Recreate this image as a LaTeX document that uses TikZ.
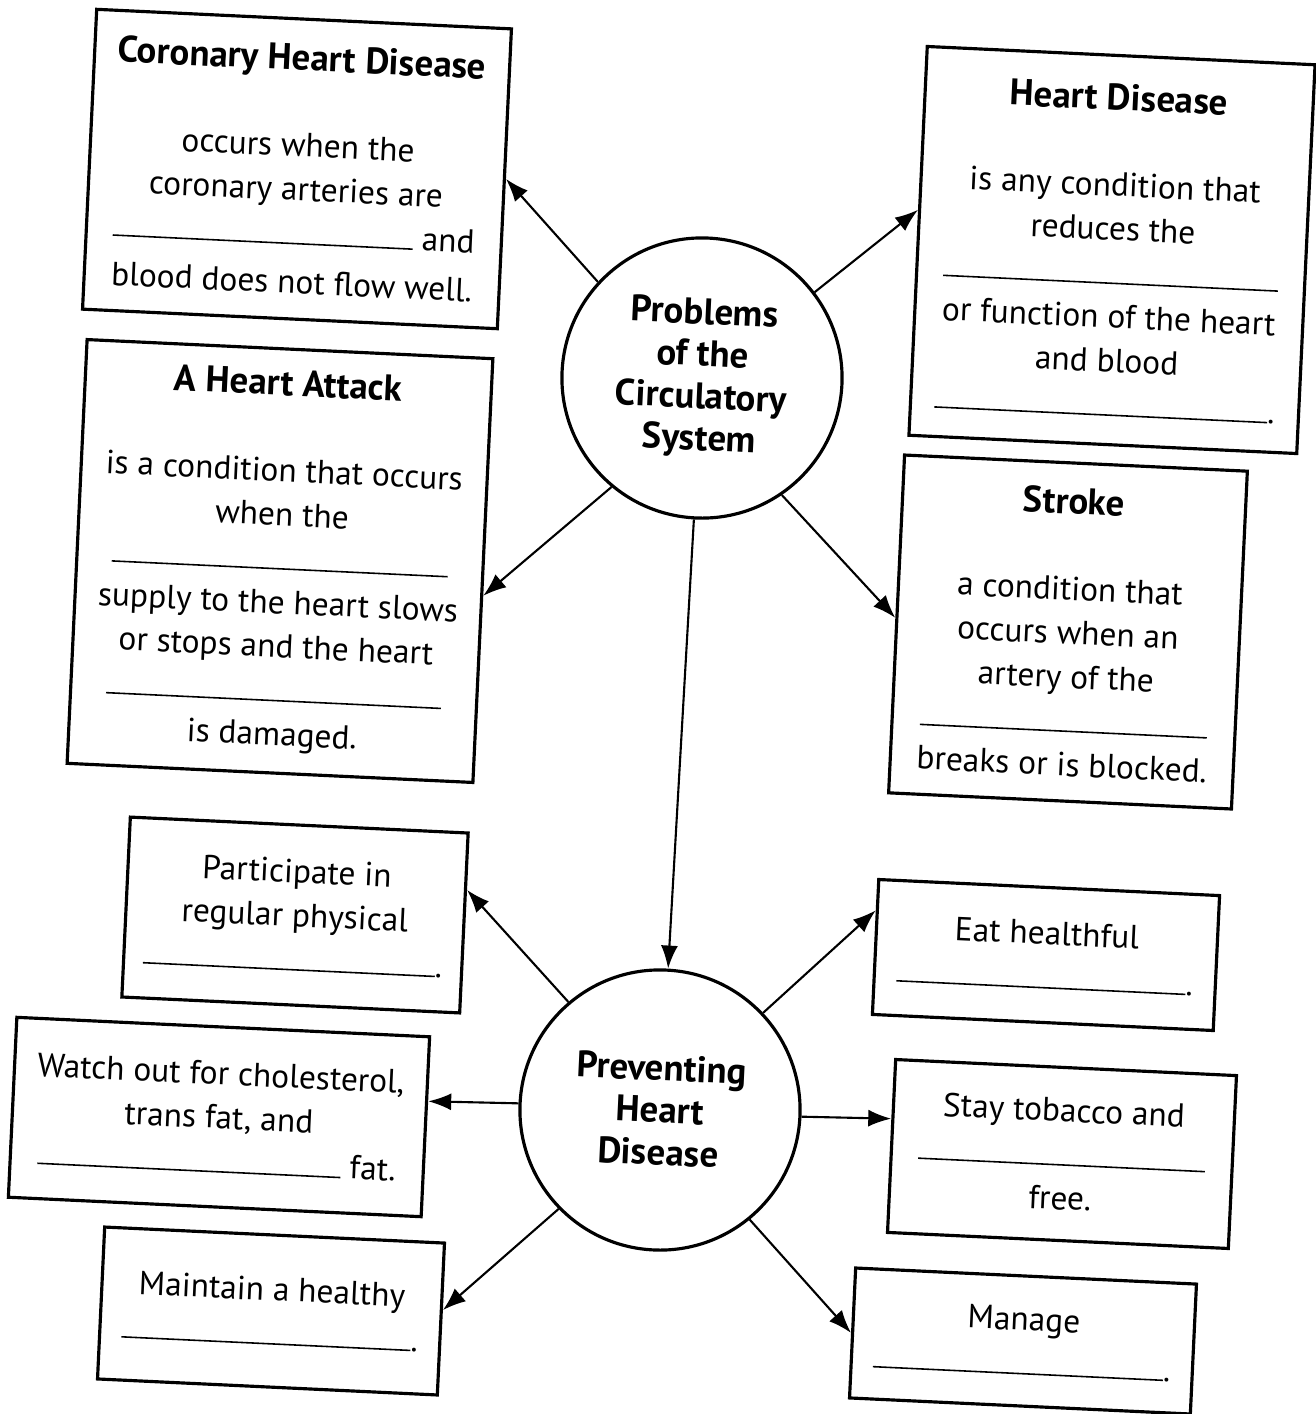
\documentclass[tikz,border=0pt]{standalone}
\usepackage{fontspec}
\setmainfont{PT Sans}
\usetikzlibrary{arrows.meta}

\newcommand{\head}[1]{{\bfseries\fontsize{10.5}{12.5}\selectfont #1}}
\newcommand{\blank}[1]{\rule{#1}{0.45pt}}

\begin{document}
\begin{tikzpicture}[x=0.01cm,y=-0.01cm,
	every node/.style={black},
	box/.style={draw,line width=0.9pt,align=center,inner sep=0pt,rotate=-2.7,
		font=\fontsize{9.5}{12.5}\selectfont},
	hub/.style={draw,circle,line width=0.9pt,align=center,inner sep=0pt,rotate=-2.7,
		minimum size=2.8cm,font=\bfseries\fontsize{10.5}{12}\selectfont},
	arr/.style={line width=0.6pt,-{Latex[length=2.3mm,width=1.7mm]}}]
	\fill[white] (0,0) rectangle (1316,1414);
	\useasboundingbox (0,0) rectangle (1316,1414);

	% the two hubs
	\node[hub] (prob) at (702,378) {Problems\\of the\\Circulatory\\System};
	\node[hub] (prev) at (660,1110) {Preventing\\Heart\\Disease};

	% problems
	\node[box,minimum width=4.15cm,minimum height=3cm] (chd) at (297,169)
		{\head{Coronary Heart Disease}\\[12pt]occurs when the\\coronary arteries are\\
		\blank{3cm} and\\[1.5pt]blood does not flow well.};
	\node[box,minimum width=3.88cm,minimum height=3.89cm] (hd) at (1112,250)
		{\head{Heart Disease}\\[12pt]is any condition that\\reduces the\\\blank{3.35cm}\\
		or function of the heart\\and blood\\\blank{3.33cm}.};
	\node[box,minimum width=4.06cm,minimum height=4.24cm] (ha) at (280,561)
		{\head{A Heart Attack}\\[12pt]is a condition that occurs\\when the\\\blank{3.36cm}\\
		supply to the heart slows\\or stops and the heart\\\blank{3.35cm}\\is damaged.};
	\node[box,minimum width=3.43cm,minimum height=3.38cm] (st) at (1068,632)
		{\head{Stroke}\\[12pt]a condition that\\occurs when an\\artery of the\\
		\blank{2.87cm}\\breaks or is blocked.};

	% prevention
	\node[box,minimum width=3.38cm,minimum height=1.8cm] (pa) at (295,915)
		{Participate in\\regular physical\\\blank{2.92cm}.};
	\node[box,minimum width=4.13cm,minimum height=1.8cm] (wo) at (219,1117)
		{Watch out for cholesterol,\\trans fat, and\\\blank{3.03cm} fat.};
	\node[box,minimum width=3.4cm,minimum height=1.52cm] (mh) at (271,1311)
		{Maintain a healthy\\\blank{2.89cm}.};
	\node[box,minimum width=3.41cm,minimum height=1.35cm] (eh) at (1046,955)
		{Eat healthful\\\blank{2.89cm}.};
	\node[box,minimum width=3.41cm,minimum height=1.73cm] (sf) at (1062,1154)
		{Stay tobacco and\\\blank{2.87cm}\\free.};
	\node[box,minimum width=3.41cm,minimum height=1.3cm] (mg) at (1023,1341)
		{Manage\\\blank{2.9cm}.};

	\draw[arr] (prob.140) -- (chd.0);
	\draw[arr] (prob.40) -- (hd.171);
	\draw[arr] (prob.233) -- (ha.353);
	\draw[arr] (prob.307) -- (st.178);
	\draw[arr] (prob) -- (prev);

	\draw[arr] (prev.133) -- (pa.11);
	\draw[arr] (prev.180) -- (wo.7);
	\draw[arr] (prev.227) -- (mh.3);
	\draw[arr] (prev.46) -- (eh.168);
	\draw[arr] (prev.0) -- (sf.171);
	\draw[arr] (prev.312) -- (mg.180);
\end{tikzpicture}
\end{document}
